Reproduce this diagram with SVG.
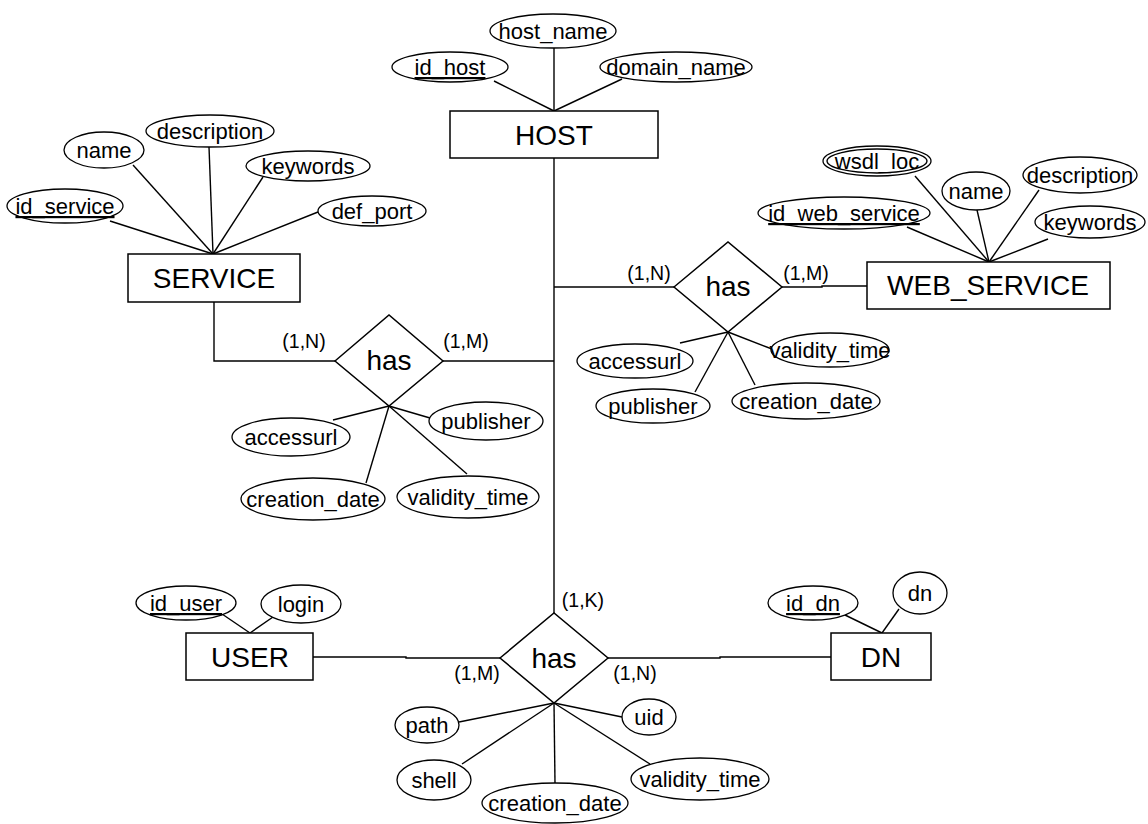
<svg xmlns="http://www.w3.org/2000/svg" width="1148" height="824" viewBox="0 0 1148 824">
<style>
.bg{fill:#fff}
rect.ent{fill:#fff;stroke:#000;stroke-width:1.5}
polygon.rel{fill:#fff;stroke:#000;stroke-width:1.5}
ellipse{fill:#fff;stroke:#000;stroke-width:1.3}
line,polyline{stroke:#000;stroke-width:1.4;fill:none}
text{font-family:"Liberation Sans",Arial,sans-serif;fill:#000;text-anchor:middle}
.big{font-size:28px}
.att{font-size:22px}
.card{font-size:19.5px}
.key{text-decoration:underline}
</style>
<rect class="bg" x="0" y="0" width="1148" height="824"/>
<g id="connectors">
  <!-- HOST attributes -->
  <line x1="494" y1="81" x2="554" y2="111"/>
  <line x1="554" y1="48" x2="554" y2="111"/>
  <line x1="622" y1="79" x2="554" y2="111"/>
  <!-- SERVICE attributes -->
  <line x1="110" y1="221" x2="213" y2="254"/>
  <line x1="133" y1="165" x2="213" y2="254"/>
  <line x1="209" y1="147" x2="213" y2="254"/>
  <line x1="263" y1="177" x2="213" y2="254"/>
  <line x1="318" y1="212" x2="213" y2="254"/>
  <!-- WEB_SERVICE attributes -->
  <line x1="907" y1="227" x2="989" y2="262"/>
  <line x1="915" y1="176" x2="989" y2="262"/>
  <line x1="977" y1="210" x2="989" y2="262"/>
  <line x1="1039" y1="190" x2="989" y2="262"/>
  <line x1="1048" y1="239" x2="989" y2="262"/>
  <!-- HOST trunk -->
  <line x1="554" y1="158" x2="554" y2="613"/>
  <!-- SERVICE - has -->
  <polyline points="214,302 214,361 335,361"/>
  <line x1="443" y1="361" x2="554" y2="361"/>
  <!-- has (left) attributes -->
  <line x1="333" y1="420" x2="389" y2="406"/>
  <line x1="430" y1="418" x2="389" y2="406"/>
  <line x1="366" y1="483" x2="389" y2="406"/>
  <line x1="467" y1="474" x2="389" y2="406"/>
  <!-- HOST - has (right) - WEB_SERVICE -->
  <line x1="554" y1="287" x2="674" y2="287"/>
  <polyline points="782,287 822,287 822,286 867,286"/>
  <!-- has (right) attributes -->
  <line x1="680" y1="343" x2="728" y2="332"/>
  <line x1="695" y1="392" x2="728" y2="332"/>
  <line x1="772" y1="349" x2="728" y2="332"/>
  <line x1="755" y1="385" x2="728" y2="332"/>
  <!-- USER - has - DN -->
  <polyline points="313,657 406,657 406,658 500,658"/>
  <polyline points="608,658 720,658 720,657 831,657"/>
  <!-- USER attributes -->
  <line x1="222" y1="614" x2="250" y2="633"/>
  <line x1="273" y1="617" x2="250" y2="633"/>
  <!-- DN attributes -->
  <line x1="845" y1="615" x2="882" y2="633"/>
  <line x1="899" y1="609" x2="882" y2="633"/>
  <!-- has (bottom) attributes -->
  <line x1="459" y1="722" x2="554" y2="703"/>
  <line x1="622" y1="717" x2="554" y2="703"/>
  <line x1="462" y1="764" x2="554" y2="703"/>
  <line x1="555" y1="783" x2="554" y2="703"/>
  <line x1="650" y1="764" x2="554" y2="703"/>
</g>
<g id="cardinalities">
  <text class="card" x="304" y="348">(1,N)</text>
  <text class="card" x="466" y="348">(1,M)</text>
  <text class="card" x="649" y="280">(1,N)</text>
  <text class="card" x="806" y="280">(1,M)</text>
  <text class="card" x="583" y="607">(1,K)</text>
  <text class="card" x="477" y="680">(1,M)</text>
  <text class="card" x="635" y="680">(1,N)</text>
</g>
<g id="HOST">
  <rect class="ent" x="450" y="111" width="208" height="47"/>
  <text class="big" x="554" y="145">HOST</text>
</g>
<g id="HOST_id_host"><ellipse cx="450" cy="67" rx="58" ry="15"/><text class="att key" x="450" y="75">id_host</text></g>
<g id="HOST_host_name"><ellipse cx="553" cy="31" rx="63" ry="17"/><text class="att" x="553" y="39">host_name</text></g>
<g id="HOST_domain_name"><ellipse cx="676" cy="67" rx="76" ry="15"/><text class="att" x="676" y="75">domain_name</text></g>

<g id="SERVICE">
  <rect class="ent" x="128" y="254" width="172" height="48"/>
  <text class="big" x="214" y="288">SERVICE</text>
</g>
<g id="SERVICE_id_service"><ellipse cx="65" cy="206" rx="58" ry="17"/><text class="att key" x="65" y="214">id_service</text></g>
<g id="SERVICE_name"><ellipse cx="104" cy="150" rx="40" ry="18"/><text class="att" x="104" y="158">name</text></g>
<g id="SERVICE_description"><ellipse cx="210" cy="131" rx="64" ry="16"/><text class="att" x="210" y="139">description</text></g>
<g id="SERVICE_keywords"><ellipse cx="308" cy="166" rx="62" ry="15"/><text class="att" x="308" y="174">keywords</text></g>
<g id="SERVICE_def_port"><ellipse cx="372" cy="211" rx="54" ry="15"/><text class="att" x="372" y="219">def_port</text></g>

<g id="WEB_SERVICE">
  <rect class="ent" x="867" y="262" width="243" height="47"/>
  <text class="big" x="988" y="295">WEB_SERVICE</text>
</g>
<g id="WS_id_web_service"><ellipse cx="844" cy="213" rx="86" ry="16"/><text class="att key" x="844" y="221">id_web_service</text></g>
<g id="WS_wsdl_loc"><ellipse cx="877" cy="161" rx="54" ry="15"/><ellipse cx="877" cy="161" rx="50" ry="12"/><text class="att" x="877" y="169">wsdl_loc</text></g>
<g id="WS_name"><ellipse cx="976" cy="191" rx="34" ry="19"/><text class="att" x="976" y="199">name</text></g>
<g id="WS_description"><ellipse cx="1080" cy="175" rx="57" ry="18"/><text class="att" x="1080" y="183">description</text></g>
<g id="WS_keywords"><ellipse cx="1090" cy="222" rx="55" ry="16"/><text class="att" x="1090" y="230">keywords</text></g>

<g id="has_service">
  <polygon class="rel" points="335,361 389,315 443,361 389,406"/>
  <text class="big" x="389" y="370">has</text>
</g>
<g id="hs_accessurl"><ellipse cx="291" cy="437" rx="59" ry="19"/><text class="att" x="291" y="445">accessurl</text></g>
<g id="hs_publisher"><ellipse cx="486" cy="421" rx="57" ry="19"/><text class="att" x="486" y="429">publisher</text></g>
<g id="hs_creation_date"><ellipse cx="313" cy="499" rx="72" ry="21"/><text class="att" x="313" y="507">creation_date</text></g>
<g id="hs_validity_time"><ellipse cx="468" cy="497" rx="71" ry="21"/><text class="att" x="468" y="505">validity_time</text></g>

<g id="has_web_service">
  <polygon class="rel" points="674,287 728,242 782,287 728,332"/>
  <text class="big" x="728" y="296">has</text>
</g>
<g id="hw_accessurl"><ellipse cx="635" cy="361" rx="58" ry="17"/><text class="att" x="635" y="369">accessurl</text></g>
<g id="hw_publisher"><ellipse cx="653" cy="406" rx="57" ry="17"/><text class="att" x="653" y="414">publisher</text></g>
<g id="hw_validity_time"><ellipse cx="830" cy="350" rx="59" ry="17"/><text class="att" x="830" y="358">validity_time</text></g>
<g id="hw_creation_date"><ellipse cx="806" cy="401" rx="74" ry="18"/><text class="att" x="806" y="409">creation_date</text></g>

<g id="USER">
  <rect class="ent" x="186" y="633" width="127" height="47"/>
  <text class="big" x="250" y="667">USER</text>
</g>
<g id="USER_id_user"><ellipse cx="186" cy="603" rx="50" ry="17"/><text class="att key" x="186" y="611">id_user</text></g>
<g id="USER_login"><ellipse cx="301" cy="604" rx="40" ry="19"/><text class="att" x="301" y="612">login</text></g>

<g id="DN">
  <rect class="ent" x="831" y="633" width="100" height="47"/>
  <text class="big" x="881" y="667">DN</text>
</g>
<g id="DN_id_dn"><ellipse cx="813" cy="603" rx="45" ry="17"/><text class="att key" x="813" y="611">id_dn</text></g>
<g id="DN_dn"><ellipse cx="920" cy="593" rx="27" ry="21"/><text class="att" x="920" y="601">dn</text></g>

<g id="has_user">
  <polygon class="rel" points="500,658 554,613 608,658 554,703"/>
  <text class="big" x="554" y="668">has</text>
</g>
<g id="hu_path"><ellipse cx="427" cy="725" rx="32" ry="18"/><text class="att" x="427" y="733">path</text></g>
<g id="hu_uid"><ellipse cx="649" cy="717" rx="27" ry="18"/><text class="att" x="649" y="725">uid</text></g>
<g id="hu_shell"><ellipse cx="434" cy="780" rx="37" ry="20"/><text class="att" x="434" y="788">shell</text></g>
<g id="hu_creation_date"><ellipse cx="555" cy="803" rx="73" ry="20"/><text class="att" x="555" y="811">creation_date</text></g>
<g id="hu_validity_time"><ellipse cx="700" cy="779" rx="69" ry="21"/><text class="att" x="700" y="787">validity_time</text></g>
</svg>
